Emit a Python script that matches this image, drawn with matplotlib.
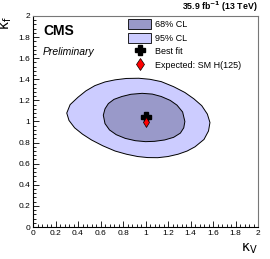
import matplotlib
matplotlib.use("Agg")
import matplotlib.pyplot as plt
from matplotlib.patches import Patch
from matplotlib.lines import Line2D
from matplotlib.ticker import MultipleLocator

plt.rcParams["font.family"] = ["Liberation Sans", "DejaVu Sans"]
plt.rcParams["mathtext.fontset"] = "custom"
plt.rcParams["mathtext.rm"] = "DejaVu Sans"
plt.rcParams["mathtext.it"] = "DejaVu Sans"
plt.rcParams["mathtext.bf"] = "DejaVu Sans:bold"

# ── data ──────────────────────────────────────────────────────────────────────
cl95_kv = [0.30, 0.33, 0.40, 0.47, 0.55, 0.64, 0.73, 0.83, 0.94, 1.04, 1.14, 1.25,
           1.35, 1.43, 1.50, 1.55, 1.573, 1.56, 1.52, 1.44, 1.37, 1.29, 1.20, 1.11,
           1.02, 0.93, 0.83, 0.73, 0.62, 0.52, 0.44, 0.37, 0.32]
cl95_kf = [1.08, 1.16, 1.23, 1.29, 1.34, 1.375, 1.395, 1.408, 1.41, 1.40, 1.378, 1.33,
           1.275, 1.215, 1.15, 1.07, 0.99, 0.91, 0.83, 0.76, 0.72, 0.69, 0.668, 0.657,
           0.658, 0.668, 0.69, 0.72, 0.77, 0.825, 0.88, 0.94, 1.01]

cl68_kv = [0.625, 0.64, 0.67, 0.72, 0.79, 0.87, 0.97, 1.06, 1.14, 1.22, 1.28, 1.33,
           1.35, 1.34, 1.31, 1.25, 1.17, 1.08, 1.00, 0.91, 0.82, 0.74, 0.68, 0.64]
cl68_kf = [1.06, 1.12, 1.17, 1.21, 1.237, 1.258, 1.267, 1.26, 1.237, 1.20, 1.155, 1.09,
           1.00, 0.94, 0.89, 0.85, 0.825, 0.812, 0.809, 0.818, 0.84, 0.875, 0.92, 0.98]

best_fit = (1.0, 1.045)
sm_expected = (1.0, 1.0)

COL68 = "#9999c9"
COL95 = "#ccccff"

# ── figure ────────────────────────────────────────────────────────────────────
fig = plt.figure(figsize=(2.70, 2.59), dpi=100)
ax = fig.add_axes([33 / 270, 1 - 227 / 259, 225 / 270, 211 / 259])

ax.fill(cl95_kv, cl95_kf, facecolor=COL95, edgecolor="black", linewidth=0.7, zorder=2)
ax.fill(cl68_kv, cl68_kf, facecolor=COL68, edgecolor="black", linewidth=0.7, zorder=3)
ax.plot(*best_fit, marker="P", color="black", markersize=6.5, zorder=4)
ax.plot(*sm_expected, marker="d", markerfacecolor="red", markeredgecolor="black",
        markeredgewidth=0.5, markersize=5.5, zorder=5)

ax.set_xlim(0, 2)
ax.set_ylim(0, 2)
ax.xaxis.set_major_locator(MultipleLocator(0.2))
ax.xaxis.set_minor_locator(MultipleLocator(0.04))
ax.yaxis.set_major_locator(MultipleLocator(0.2))
ax.yaxis.set_minor_locator(MultipleLocator(0.04))
ax.tick_params(which="both", direction="in", top=False, right=False, labelsize=6, pad=2, width=0.6)
ax.tick_params(which="major", length=4)
ax.tick_params(which="minor", length=2)
ax.xaxis.set_major_formatter(plt.FuncFormatter(lambda v, p: f"{v:g}"))
ax.yaxis.set_major_formatter(plt.FuncFormatter(lambda v, p: f"{v:g}"))
for side in ("top", "right"):
    ax.spines[side].set_color("#777777")
for sp in ax.spines.values():
    sp.set_linewidth(0.8)

# axis titles, ROOT-style in the corners
ax.text(1.0, -0.07, r"$\mathrm{\kappa_{V}}$", transform=ax.transAxes, ha="right", va="top", fontsize=10)
ax.text(-0.085, 1.0, r"$\mathrm{\kappa_{f}}$", transform=ax.transAxes, ha="right", va="top",
        rotation=90, fontsize=10)

ax.text(0.045, 0.93, "CMS", transform=ax.transAxes, fontsize=10, fontweight="bold", va="center")
ax.text(0.045, 0.83, "Preliminary", transform=ax.transAxes, fontsize=7.5, style="italic", va="center")
fig.text(258 / 270, 1 - 10 / 259, r"35.9 fb$^{\mathbf{-1}}$ (13 TeV)", ha="right", va="baseline",
         fontsize=6.3, fontweight="bold")

handles = [
    Patch(facecolor=COL68, edgecolor="black", linewidth=0.6, label="68% CL"),
    Patch(facecolor=COL95, edgecolor="black", linewidth=0.6, label="95% CL"),
    Line2D([], [], linestyle="none", marker="P", color="black", markersize=7, label="Best fit"),
    Line2D([], [], linestyle="none", marker="d", markerfacecolor="red", markeredgecolor="black",
           markeredgewidth=0.5, markersize=6, label="Expected: SM H(125)"),
]
ax.legend(handles=handles, loc="upper left", bbox_to_anchor=(128 / 270, 1 - 19 / 259),
          bbox_transform=fig.transFigure, frameon=False, fontsize=6.5, handlelength=2.6,
          handleheight=1.4, handletextpad=0.4, labelspacing=0.35, borderpad=0, borderaxespad=0)

fig.savefig("out.png", dpi=100)
